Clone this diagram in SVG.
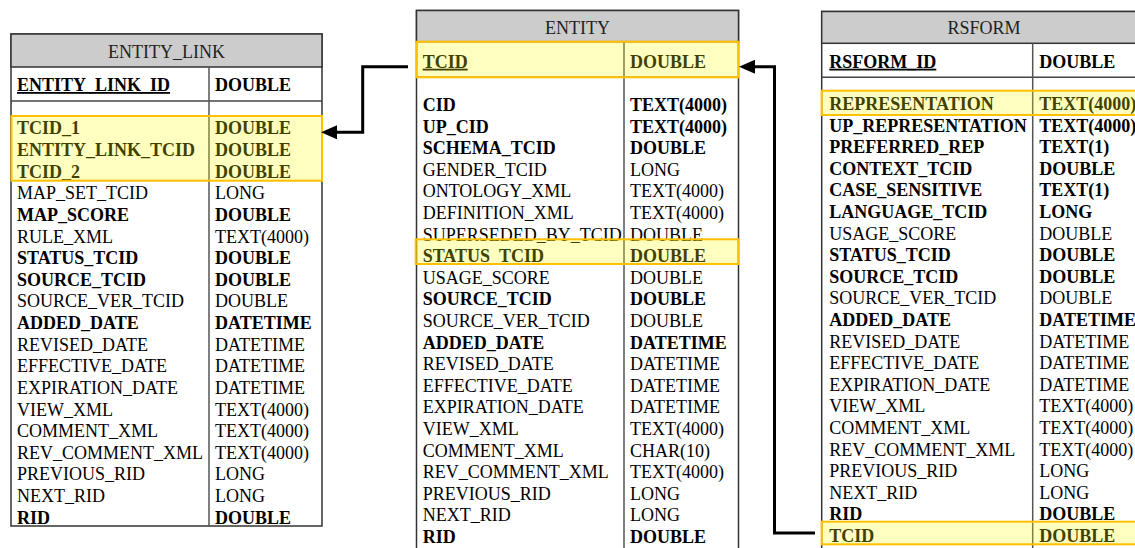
<svg xmlns="http://www.w3.org/2000/svg" width="1135" height="548" viewBox="0 0 1135 548">
  <defs>
    <style>
      .tbl { fill: #ffffff; stroke: #333333; stroke-width: 1.5; }
      .hdr { fill: #cccccc; stroke: #333333; stroke-width: 1.5; }
      .sep { stroke: #444444; stroke-width: 1.5; fill: none; }
      .col { stroke: #555555; stroke-width: 1.5; fill: none; }
      .hl { fill: #ffff00; fill-opacity: 0.25; stroke: #ffc000; stroke-width: 2; }
      text { font-family: "Liberation Serif", "Times New Roman", serif; font-size: 18px; fill: #000000; }
      .title { fill: #222222; text-anchor: middle; }
      .b { font-weight: bold; }
      .key { font-weight: bold; text-decoration: underline; }
      .link { fill: none; stroke: #000000; stroke-width: 3; }
    </style>
    <marker id="arrow" markerUnits="userSpaceOnUse" markerWidth="16" markerHeight="14" viewBox="0 0 16 14" refX="0" refY="7" orient="auto">
      <path d="M0,0 L16,7 L0,14 z" fill="#000000"/>
    </marker>
  </defs>

  <!-- ENTITY_LINK table -->
  <g id="entity_link">
    <rect class="tbl" x="11" y="34" width="311" height="492"/>
    <rect class="hdr" x="11" y="34" width="311" height="33"/>
    <text class="title" x="166.5" y="57.7">ENTITY_LINK</text>
    <line class="sep" x1="11" y1="101" x2="322" y2="101"/>
    <line class="col" x1="209" y1="67" x2="209" y2="526"/>
    <text class="key" x="17" y="91">ENTITY_LINK_ID</text>
    <text class="b" x="215" y="91">DOUBLE</text>
    <text x="17" y="134.3">
      <tspan class="b">TCID_1</tspan>
      <tspan class="b" x="17" y="155.9">ENTITY_LINK_TCID</tspan>
      <tspan class="b" x="17" y="177.6">TCID_2</tspan>
      <tspan x="17" y="199.2">MAP_SET_TCID</tspan>
      <tspan class="b" x="17" y="220.8">MAP_SCORE</tspan>
      <tspan x="17" y="242.5">RULE_XML</tspan>
      <tspan class="b" x="17" y="264.1">STATUS_TCID</tspan>
      <tspan class="b" x="17" y="285.7">SOURCE_TCID</tspan>
      <tspan x="17" y="307.3">SOURCE_VER_TCID</tspan>
      <tspan class="b" x="17" y="329">ADDED_DATE</tspan>
      <tspan x="17" y="350.6">REVISED_DATE</tspan>
      <tspan x="17" y="372.2">EFFECTIVE_DATE</tspan>
      <tspan x="17" y="393.9">EXPIRATION_DATE</tspan>
      <tspan x="17" y="415.5">VIEW_XML</tspan>
      <tspan x="17" y="437.1">COMMENT_XML</tspan>
      <tspan x="17" y="458.8">REV_COMMENT_XML</tspan>
      <tspan x="17" y="480.4">PREVIOUS_RID</tspan>
      <tspan x="17" y="502">NEXT_RID</tspan>
      <tspan class="b" x="17" y="523.6">RID</tspan>
    </text>
    <text x="215" y="134.3">
      <tspan class="b">DOUBLE</tspan>
      <tspan class="b" x="215" y="155.9">DOUBLE</tspan>
      <tspan class="b" x="215" y="177.6">DOUBLE</tspan>
      <tspan x="215" y="199.2">LONG</tspan>
      <tspan class="b" x="215" y="220.8">DOUBLE</tspan>
      <tspan x="215" y="242.5">TEXT(4000)</tspan>
      <tspan class="b" x="215" y="264.1">DOUBLE</tspan>
      <tspan class="b" x="215" y="285.7">DOUBLE</tspan>
      <tspan x="215" y="307.3">DOUBLE</tspan>
      <tspan class="b" x="215" y="329">DATETIME</tspan>
      <tspan x="215" y="350.6">DATETIME</tspan>
      <tspan x="215" y="372.2">DATETIME</tspan>
      <tspan x="215" y="393.9">DATETIME</tspan>
      <tspan x="215" y="415.5">TEXT(4000)</tspan>
      <tspan x="215" y="437.1">TEXT(4000)</tspan>
      <tspan x="215" y="458.8">TEXT(4000)</tspan>
      <tspan x="215" y="480.4">LONG</tspan>
      <tspan x="215" y="502">LONG</tspan>
      <tspan class="b" x="215" y="523.6">DOUBLE</tspan>
    </text>
    <rect class="hl" x="11.5" y="116" width="310.5" height="64.7"/>
  </g>

  <!-- ENTITY table -->
  <g id="entity">
    <rect class="tbl" x="416.5" y="10.5" width="322" height="550"/>
    <rect class="hdr" x="416.5" y="10.5" width="322" height="31.2"/>
    <text class="title" x="577.5" y="33.5">ENTITY</text>
    <line class="sep" x1="416.5" y1="77.3" x2="738.5" y2="77.3"/>
    <line class="col" x1="624" y1="41.7" x2="624" y2="548"/>
    <text class="key" x="422.7" y="67.7">TCID</text>
    <text class="b" x="630" y="67.7">DOUBLE</text>
    <text x="422.7" y="111">
      <tspan class="b">CID</tspan>
      <tspan class="b" x="422.7" y="132.6">UP_CID</tspan>
      <tspan class="b" x="422.7" y="154.2">SCHEMA_TCID</tspan>
      <tspan x="422.7" y="175.8">GENDER_TCID</tspan>
      <tspan x="422.7" y="197.4">ONTOLOGY_XML</tspan>
      <tspan x="422.7" y="219">DEFINITION_XML</tspan>
      <tspan x="422.7" y="240.6">SUPERSEDED_BY_TCID</tspan>
      <tspan class="b" x="422.7" y="262.2">STATUS_TCID</tspan>
      <tspan x="422.7" y="283.8">USAGE_SCORE</tspan>
      <tspan class="b" x="422.7" y="305.4">SOURCE_TCID</tspan>
      <tspan x="422.7" y="327">SOURCE_VER_TCID</tspan>
      <tspan class="b" x="422.7" y="348.6">ADDED_DATE</tspan>
      <tspan x="422.7" y="370.2">REVISED_DATE</tspan>
      <tspan x="422.7" y="391.8">EFFECTIVE_DATE</tspan>
      <tspan x="422.7" y="413.4">EXPIRATION_DATE</tspan>
      <tspan x="422.7" y="435">VIEW_XML</tspan>
      <tspan x="422.7" y="456.6">COMMENT_XML</tspan>
      <tspan x="422.7" y="478.2">REV_COMMENT_XML</tspan>
      <tspan x="422.7" y="499.8">PREVIOUS_RID</tspan>
      <tspan x="422.7" y="521.4">NEXT_RID</tspan>
      <tspan class="b" x="422.7" y="543">RID</tspan>
    </text>
    <text x="630" y="111">
      <tspan class="b">TEXT(4000)</tspan>
      <tspan class="b" x="630" y="132.6">TEXT(4000)</tspan>
      <tspan class="b" x="630" y="154.2">DOUBLE</tspan>
      <tspan x="630" y="175.8">LONG</tspan>
      <tspan x="630" y="197.4">TEXT(4000)</tspan>
      <tspan x="630" y="219">TEXT(4000)</tspan>
      <tspan x="630" y="240.6">DOUBLE</tspan>
      <tspan class="b" x="630" y="262.2">DOUBLE</tspan>
      <tspan x="630" y="283.8">DOUBLE</tspan>
      <tspan class="b" x="630" y="305.4">DOUBLE</tspan>
      <tspan x="630" y="327">DOUBLE</tspan>
      <tspan class="b" x="630" y="348.6">DATETIME</tspan>
      <tspan x="630" y="370.2">DATETIME</tspan>
      <tspan x="630" y="391.8">DATETIME</tspan>
      <tspan x="630" y="413.4">DATETIME</tspan>
      <tspan x="630" y="435">TEXT(4000)</tspan>
      <tspan x="630" y="456.6">CHAR(10)</tspan>
      <tspan x="630" y="478.2">TEXT(4000)</tspan>
      <tspan x="630" y="499.8">LONG</tspan>
      <tspan x="630" y="521.4">LONG</tspan>
      <tspan class="b" x="630" y="543">DOUBLE</tspan>
    </text>
    <rect class="hl" x="416.7" y="41.7" width="321.6" height="35.6"/>
    <rect class="hl" x="415.7" y="239.3" width="322.6" height="24.7"/>
  </g>

  <!-- RSFORM table -->
  <g id="rsform">
    <rect class="tbl" x="821.7" y="11.5" width="340" height="550"/>
    <rect class="hdr" x="821.7" y="11.5" width="340" height="31.8"/>
    <text class="title" x="984" y="33.5">RSFORM</text>
    <line class="sep" x1="821.7" y1="77.3" x2="1135" y2="77.3"/>
    <line class="col" x1="1032.7" y1="43.3" x2="1032.7" y2="548"/>
    <text class="key" x="829.3" y="67.7">RSFORM_ID</text>
    <text class="b" x="1039.3" y="67.7">DOUBLE</text>
    <text x="829.3" y="110">
      <tspan class="b">REPRESENTATION</tspan>
      <tspan class="b" x="829.3" y="131.6">UP_REPRESENTATION</tspan>
      <tspan class="b" x="829.3" y="153.2">PREFERRED_REP</tspan>
      <tspan class="b" x="829.3" y="174.8">CONTEXT_TCID</tspan>
      <tspan class="b" x="829.3" y="196.4">CASE_SENSITIVE</tspan>
      <tspan class="b" x="829.3" y="218">LANGUAGE_TCID</tspan>
      <tspan x="829.3" y="239.6">USAGE_SCORE</tspan>
      <tspan class="b" x="829.3" y="261.2">STATUS_TCID</tspan>
      <tspan class="b" x="829.3" y="282.8">SOURCE_TCID</tspan>
      <tspan x="829.3" y="304.4">SOURCE_VER_TCID</tspan>
      <tspan class="b" x="829.3" y="326">ADDED_DATE</tspan>
      <tspan x="829.3" y="347.6">REVISED_DATE</tspan>
      <tspan x="829.3" y="369.2">EFFECTIVE_DATE</tspan>
      <tspan x="829.3" y="390.8">EXPIRATION_DATE</tspan>
      <tspan x="829.3" y="412.4">VIEW_XML</tspan>
      <tspan x="829.3" y="434">COMMENT_XML</tspan>
      <tspan x="829.3" y="455.6">REV_COMMENT_XML</tspan>
      <tspan x="829.3" y="477.2">PREVIOUS_RID</tspan>
      <tspan x="829.3" y="498.8">NEXT_RID</tspan>
      <tspan class="b" x="829.3" y="520.4">RID</tspan>
      <tspan class="b" x="829.3" y="542">TCID</tspan>
    </text>
    <text x="1039.3" y="110">
      <tspan class="b">TEXT(4000)</tspan>
      <tspan class="b" x="1039.3" y="131.6">TEXT(4000)</tspan>
      <tspan class="b" x="1039.3" y="153.2">TEXT(1)</tspan>
      <tspan class="b" x="1039.3" y="174.8">DOUBLE</tspan>
      <tspan class="b" x="1039.3" y="196.4">TEXT(1)</tspan>
      <tspan class="b" x="1039.3" y="218">LONG</tspan>
      <tspan x="1039.3" y="239.6">DOUBLE</tspan>
      <tspan class="b" x="1039.3" y="261.2">DOUBLE</tspan>
      <tspan class="b" x="1039.3" y="282.8">DOUBLE</tspan>
      <tspan x="1039.3" y="304.4">DOUBLE</tspan>
      <tspan class="b" x="1039.3" y="326">DATETIME</tspan>
      <tspan x="1039.3" y="347.6">DATETIME</tspan>
      <tspan x="1039.3" y="369.2">DATETIME</tspan>
      <tspan x="1039.3" y="390.8">DATETIME</tspan>
      <tspan x="1039.3" y="412.4">TEXT(4000)</tspan>
      <tspan x="1039.3" y="434">TEXT(4000)</tspan>
      <tspan x="1039.3" y="455.6">TEXT(4000)</tspan>
      <tspan x="1039.3" y="477.2">LONG</tspan>
      <tspan x="1039.3" y="498.8">LONG</tspan>
      <tspan class="b" x="1039.3" y="520.4">DOUBLE</tspan>
      <tspan class="b" x="1039.3" y="542">DOUBLE</tspan>
    </text>
    <rect class="hl" x="821.7" y="90.7" width="340" height="24.3"/>
    <rect class="hl" x="821.7" y="521.7" width="340" height="22.6"/>
  </g>

  <!-- relationship connectors -->
  <g id="connectors">
    <path class="link" d="M408,66.7 H362.7 V132.3 H337" marker-end="url(#arrow)"/>
    <path class="link" d="M815,533 H774.5 V66.7 H755" marker-end="url(#arrow)"/>
  </g>
</svg>
